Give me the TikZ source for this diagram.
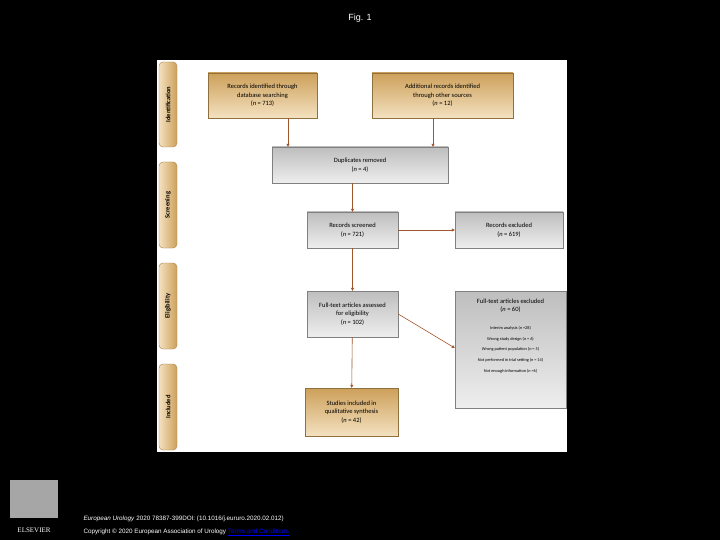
\documentclass[tikz,border=0pt]{standalone}
\usepackage{fontspec}
\setmainfont{Carlito}
\newfontfamily\arial{Liberation Sans}
\newfontfamily\tnr{Liberation Serif}
\usetikzlibrary{arrows.meta,shadings}
\definecolor{tanA}{RGB}{236,205,150}
\definecolor{tanB}{RGB}{205,160,90}
\definecolor{grA}{RGB}{238,238,238}
\definecolor{grB}{RGB}{190,190,190}
\definecolor{arr}{RGB}{160,85,45}
\begin{document}
\begin{tikzpicture}[x=1pt,y=-1pt,
 tab/.style={draw=tanB!80!black,line width=0.4pt,rounded corners=4pt,top color=tanA!60,bottom color=tanB,shading angle=90},
 obox/.style={draw=tanB!70!black,line width=0.4pt,top color=tanB,bottom color=tanA!60,align=center,font=\fontsize{6.5}{8.5}\selectfont,inner sep=0pt},
 gbox/.style={draw=gray,line width=0.4pt,top color=grB,bottom color=grA,align=center,font=\fontsize{6.5}{8.5}\selectfont,inner sep=0pt},
 ar/.style={draw=arr,line width=0.6pt,-{Triangle[length=3pt,width=3pt]}},
 lab/.style={rotate=90,font=\bfseries\fontsize{6.5}{8}\selectfont}]
\fill[black] (0,0) rectangle (720,540);
\useasboundingbox (0,0) rectangle (720,540);
\node[white,font=\arial\fontsize{9}{10}\selectfont] (title) at (360,18) {Fig. 1};
\fill[white] (157,60) rectangle (567,452);
% tabs
\path[tab] (159,62) rectangle (177,147); \node[lab] (t1) at (168,104.5) {Identification};
\path[tab] (159,162) rectangle (177,248); \node[lab] (t2) at (168,205) {Screening};
\path[tab] (159,263) rectangle (177,349); \node[lab] (t3) at (168,306) {Eligibility};
\path[tab] (159,364) rectangle (177,450); \node[lab] (t4) at (168,407) {Included};
% boxes
\node[obox,minimum width=109pt,minimum height=45pt] (id) at (262.5,95.5) {Records identified through\\database searching\\(\textit{n} = 713)};
\node[obox,minimum width=141pt,minimum height=45pt] (add) at (442.5,95.5) {Additional records identified\\through other sources\\(\textit{n} = 12)};
\node[gbox,minimum width=176pt,minimum height=36pt] (dup) at (360,165) {Duplicates removed\\(\textit{n} = 4)};
\node[gbox,minimum width=91pt,minimum height=36pt] (scr) at (352.5,230) {Records screened\\(\textit{n} = 721)};
\node[gbox,minimum width=108pt,minimum height=36pt] (exc) at (509,230) {Records excluded\\(\textit{n} = 619)};
\node[gbox,minimum width=91pt,minimum height=46pt] (ft) at (352.5,314) {Full-text articles assessed\\for eligibility\\(\textit{n} = 102)};
\node[gbox,minimum width=111pt,minimum height=117pt] (fte) at (510.5,349.5) {};
\node[align=center,font=\fontsize{6.5}{8.5}\selectfont,anchor=north] (ftet) at (510.5,295) {Full-text articles excluded\\(\textit{n} = 60)};
\node[align=center,font=\fontsize{4.3}{10.6}\selectfont,anchor=north] (ftel) at (510.5,323) {Interim analysis (\textit{n} =28)\\Wrong study design (\textit{n} = 6)\\Wrong patient population (\textit{n} = 5)\\Not performed in trial setting (\textit{n} = 14)\\Not enough information (\textit{n} =6)};
\node[obox,minimum width=93pt,minimum height=48pt] (inc) at (351.5,412) {Studies included in\\qualitative synthesis\\(\textit{n} = 42)};
% arrows
\draw[ar] (id.south -| 288,0) -- (dup.north -| 288,0);
\draw[ar] (add.south -| 433,0) -- (dup.north -| 433,0);
\draw[ar] (dup.south -| scr) -- (scr.north);
\draw[ar] (scr) -- (exc);
\draw[ar] (scr) -- (ft);
\draw[ar] (ft) -- (inc);
\draw[ar] (ft.east) -- (fte.west |- 0,348);
% footer
\fill[gray!70] (10,480) rectangle (58,518);
\node[white,font=\tnr\fontsize{7}{8}\selectfont] (els) at (34,530) {ELSEVIER};
\node[white,anchor=west,font=\arial\fontsize{6.3}{7}\selectfont] (f1) at (80,519) {\textit{European Urology} 2020 78387-399DOI: (10.1016/j.eururo.2020.02.012)};
\node[white,anchor=west,font=\arial\fontsize{6.3}{7}\selectfont] (f2) at (80,532) {Copyright © 2020 European Association of Urology \textcolor{blue}{\underline{Terms and Conditions}}};
\end{tikzpicture}
\end{document}
